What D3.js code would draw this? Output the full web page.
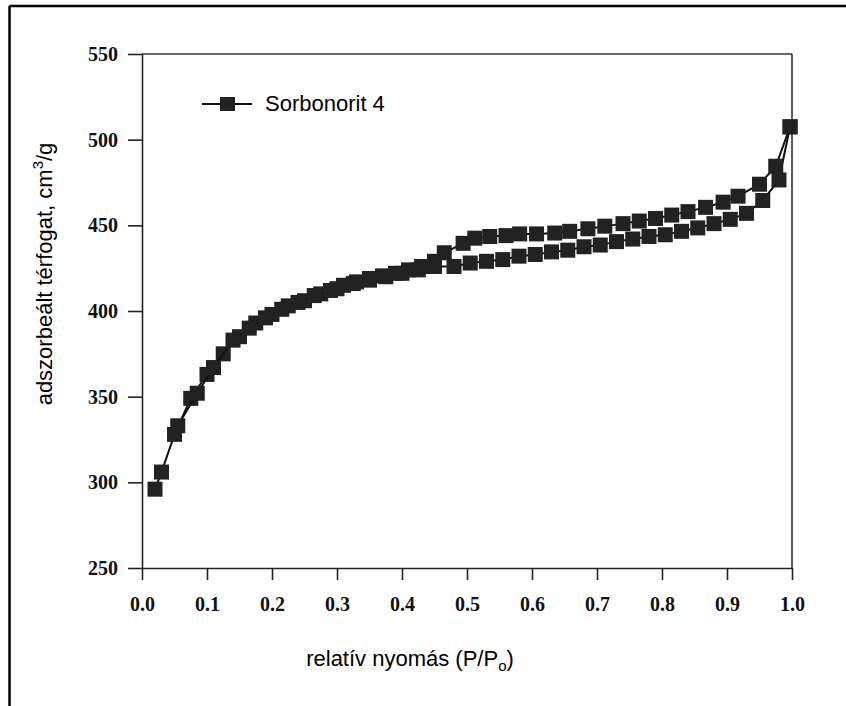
<!DOCTYPE html>
<html>
<head>
<meta charset="utf-8">
<script src="https://cdn.jsdelivr.net/npm/d3@7/dist/d3.min.js"></script>
<style>
  body { margin: 0; background: #fff; }
  .tick text { font-family: "Liberation Serif", "Times New Roman", serif; font-weight: bold; fill: #111; }
  .title { font-family: "Liberation Sans", Arial, sans-serif; fill: #000; }
</style>
</head>
<body>
<div id="chart"></div>
<script>
// Sorbonorit 4 isotherm
const seriesName = "Sorbonorit 4";

// adsorption branch (lower)
const adsX = [0.02, 0.03, 0.05, 0.075, 0.10, 0.125, 0.15, 0.175, 0.20, 0.225, 0.25, 0.275, 0.30,
  0.325, 0.35, 0.375, 0.40, 0.425, 0.45, 0.48, 0.505, 0.53, 0.555, 0.58, 0.605, 0.63, 0.655, 0.68,
  0.705, 0.73, 0.755, 0.78, 0.805, 0.83, 0.855, 0.88, 0.905, 0.93, 0.955, 0.98, 0.997];
const adsY = [296, 306, 328, 349, 363, 375, 385, 393, 398, 403, 406, 410, 413,
  416, 418, 420, 422, 424, 426, 426, 428, 429, 430, 432, 433, 434.5, 435.5, 437.5,
  438.5, 440.5, 442, 443.5, 444.5, 446.5, 448.5, 451, 453.5, 457, 464.5, 476.5, 507.5];

// desorption branch (upper)
const desX = [0.997, 0.975, 0.95, 0.917, 0.894, 0.867, 0.84, 0.815, 0.79, 0.765, 0.74, 0.712,
  0.686, 0.658, 0.635, 0.607, 0.581, 0.56, 0.535, 0.512, 0.494, 0.465, 0.45, 0.43, 0.41, 0.39,
  0.37, 0.35, 0.33, 0.31, 0.29, 0.265, 0.24, 0.215, 0.19, 0.165, 0.14, 0.11, 0.085, 0.055];
const desY = [507.5, 484.5, 474, 467, 463.5, 460.5, 458, 456, 454, 452.5, 451, 449.5,
  448, 446.5, 445.5, 445, 445, 444, 443.5, 442.5, 439.5, 434, 429, 426, 424, 422,
  420.5, 419, 417, 415, 412, 409, 405, 401, 396, 390, 383, 367, 352, 333];

const xTicks = [0, 0.1, 0.2, 0.3, 0.4, 0.5, 0.6, 0.7, 0.8, 0.9, 1.0];
const yTicks = [250, 300, 350, 400, 450, 500, 550];

let margin = {top: 54, left: 142, right: 54, bottom: 138},
  width = 846,
  height = 706,
  markSize = 15;

let svg = d3.select("#chart")
  .append("svg")
  .attr("width", width)
  .attr("height", height);

// outer frame of the figure (only left and top are visible)
svg.append("line").attr("x1", 9.5).attr("x2", 9.5).attr("y1", 6).attr("y2", height)
  .attr("stroke", "#000").attr("stroke-width", 2.5);
svg.append("line").attr("x1", 9.5).attr("x2", width).attr("y1", 6).attr("y2", 6)
  .attr("stroke", "#000").attr("stroke-width", 2.5);

let xScale = d3.scaleLinear().domain([0, 1]).range([margin.left, width - margin.right]);
let yScale = d3.scaleLinear().domain([250, 550]).range([height - margin.bottom, margin.top]);

let xAxis = svg.append("g")
  .attr("transform", "translate(0," + (height - margin.bottom) + ")")
  .call(d3.axisBottom(xScale).tickValues(xTicks).tickSize(12).tickSizeOuter(0)
    .tickPadding(17).tickFormat(d3.format(".1f")));

let yAxis = svg.append("g")
  .attr("transform", "translate(" + margin.left + ",0)")
  .call(d3.axisLeft(yScale).tickValues(yTicks).tickSize(14).tickSizeOuter(0)
    .tickPadding(10).tickFormat(d3.format("d")));

svg.selectAll(".tick text").style("font-size", "20px");
svg.selectAll(".domain, .tick line").attr("stroke", "#222").attr("stroke-width", 1.6);

// top and right frame of the plot
svg.append("line")
  .attr("x1", xScale(0)).attr("x2", xScale(1))
  .attr("y1", yScale(550)).attr("y2", yScale(550))
  .attr("stroke", "#333").attr("stroke-width", 1.6);
svg.append("line")
  .attr("x1", xScale(1)).attr("x2", xScale(1))
  .attr("y1", yScale(550)).attr("y2", yScale(250))
  .attr("stroke", "#333").attr("stroke-width", 1.6);

let line = d3.line()
  .x(d => xScale(d[0]))
  .y(d => yScale(d[1]));

let branches = [
  adsX.map((x, i) => [x, adsY[i]]),
  desX.map((x, i) => [x, desY[i]])
];

branches.forEach(b => {
  svg.append("path")
    .datum(b)
    .attr("d", line)
    .attr("fill", "none")
    .attr("stroke", "#111")
    .attr("stroke-width", 2);

  svg.selectAll(null)
    .data(b)
    .enter().append("rect")
    .attr("x", d => xScale(d[0]) - markSize / 2)
    .attr("y", d => yScale(d[1]) - markSize / 2)
    .attr("width", markSize)
    .attr("height", markSize)
    .attr("fill", "#222");
});

// legend
let legend = svg.append("g").attr("transform", "translate(202,104)");
legend.append("line").attr("x1", 0).attr("x2", 50).attr("y1", 0).attr("y2", 0)
  .attr("stroke", "#111").attr("stroke-width", 2);
legend.append("rect").attr("x", 18).attr("y", -7).attr("width", 15).attr("height", 14)
  .attr("fill", "#222");
legend.append("text").attr("class", "title")
  .attr("x", 63).attr("y", 7)
  .style("font-size", "22px")
  .text(seriesName);

// axis titles
let xTitle = svg.append("text").attr("class", "title")
  .attr("x", 410).attr("y", 666)
  .attr("text-anchor", "middle")
  .style("font-size", "22px");
xTitle.append("tspan").text("relatív nyomás (P/P");
xTitle.append("tspan").attr("dy", 5).style("font-size", "15px").text("o");
xTitle.append("tspan").attr("dy", -5).text(")");

let yTitle = svg.append("text").attr("class", "title")
  .attr("transform", "translate(52,274) rotate(-90)")
  .attr("text-anchor", "middle")
  .style("font-size", "22px");
yTitle.append("tspan").text("adszorbeált térfogat, cm");
yTitle.append("tspan").attr("dy", -9).style("font-size", "15px").text("3");
yTitle.append("tspan").attr("dy", 9).text("/g");
</script>
</body>
</html>
